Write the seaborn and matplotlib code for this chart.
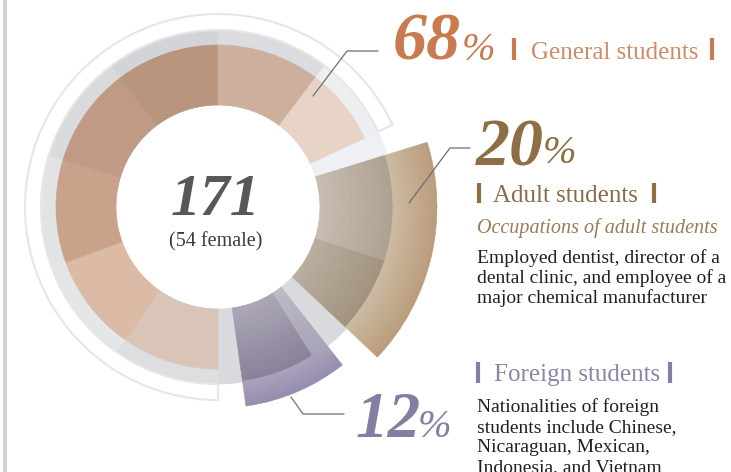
import numpy as np
import matplotlib.pyplot as plt
import seaborn as sns

sns.set_theme(style="white")
plt.rcParams['font.family'] = ['Liberation Serif', 'DejaVu Serif']

# --- data ---
groups = ["General students", "Adult students", "Foreign students"]
shares = [68, 20, 12]
total_students = 171
female_students = 54
adult_title = "Occupations of adult students"
adult_lines = ["Employed dentist, director of a",
               "dental clinic, and employee of a",
               "major chemical manufacturer"]
foreign_lines = ["Nationalities of foreign",
                 "students include Chinese,",
                 "Nicaraguan, Mexican,",
                 "Indonesia, and Vietnam"]

# colours
c_gen, c_adult, c_for = "#c97b4f", "#8e6e45", "#857ea3"
c_gen_txt, c_adult_txt, c_for_txt = "#cf8a66", "#8a6c48", "#8c85aa"
c_body = "#231f20"
c_lead = "#6d6e71"

W, H = 731, 472
fig = plt.figure(figsize=(W / 100, H / 100), dpi=100)

# polar axes centred on the donut (pixel geometry of the original)
cx, cy, rmax = 218, 207, 230
ax = fig.add_axes([(cx - rmax) / W, (H - cy - rmax) / H, 2 * rmax / W, 2 * rmax / H],
                  projection='polar')
ax.set_theta_zero_location('N')
ax.set_theta_direction(-1)
ax.set_ylim(0, rmax)
ax.axis('off')


def wedge(a0, a1, r0, r1, color, z=2):
    ax.bar(np.deg2rad((a0 + a1) / 2), r1 - r0, width=np.deg2rad(a1 - a0), bottom=r0,
           color=color, edgecolor=color, linewidth=0.4, zorder=z)


def shaded(a0, a1, r0, r1, c0, c1, n=12, z=3):
    # radial colour blend, drawn as thin rings
    cols = sns.blend_palette([c0, c1], n)
    rs = np.linspace(r0, r1, n + 1)
    for i in range(n):
        wedge(a0, a1, rs[i], rs[i + 1], cols[i], z)


# slice angles (compass degrees, clockwise, starting at 6 o'clock)
edges = 180 + 360 * np.cumsum([0] + shares) / 100

# grey backing ring
ring = [(180, 215, '#dcdee0'), (215, 250, '#e5e6e8'), (250, 287, '#e1e3e5'),
        (287, 323, '#d8dadc'), (323, 360, '#d2d4d7'), (360, 397, '#dadcdf'),
        (397, edges[1], '#eceef0'), (edges[1], edges[1] + 8, '#eef0f3'),
        (edges[1] + 8, edges[3], '#d8dadd')]
for a0, a1, c in ring:
    wedge(a0, a1, 102, 177, c, z=1)

# general students: shaded sub-bands
gen_bands = [180, 215, 250, 287, 323, 360, 397, edges[1]]
gen_cols = ['#d8c5b8', '#dbbba5', '#caa18a', '#c09a84', '#b9947e', '#ccb09d', '#e7d4c6']
for a0, a1, c in zip(gen_bands[:-1], gen_bands[1:], gen_cols):
    wedge(a0, a1, 102, 162, c)
ax.bar(np.deg2rad((edges[0] + edges[1]) / 2), 16, width=np.deg2rad(edges[1] - edges[0]),
       bottom=177, fill=False, edgecolor='#e6e6e6', linewidth=1.5, zorder=2)

# adult students
a0, a1 = edges[1] + 8, edges[2] - 3.5
shaded(a0, 468, 102, 175, '#c6bcb0', '#b0a291')
shaded(468, a1, 102, 175, '#b9ad9e', '#a39481')
shaded(a0, a1, 175, 219, '#cbb9a1', '#ba9d7c')

# foreign students
f0, f1 = edges[2] + 5, edges[3] - 8
shaded(f0, f0 + 6, 102, 176, '#bdb9c6', '#a9a3b7')
shaded(f0 + 6, f1, 102, 176, '#aba5b7', '#8a8399')
shaded(f0, f1, 176, 201, '#a8a1bb', '#958cae')

# --- overlay in pixel coordinates for text and leader lines ---
tx = fig.add_axes([0, 0, 1, 1], zorder=5)
tx.set_xlim(0, W)
tx.set_ylim(H, 0)
tx.axis('off')
tx.patch.set_alpha(0)

tx.plot([5, 5], [0, H], color='#d2d2d2', lw=3, solid_capstyle='butt')

big = dict(fontweight='bold', fontstyle='italic', va='baseline', ha='left')
pct = dict(fontstyle='italic', va='baseline', ha='left')

# centre
tx.text(215, 215, str(total_students), fontsize=43, color='#58585a',
        fontweight='bold', fontstyle='italic', ha='center', va='baseline')
tx.text(216, 246, f"({female_students} female)", fontsize=14.5, color='#3a3a3a',
        ha='center', va='baseline')

# general
tx.plot([313, 347, 378], [96, 51, 51], color=c_lead, lw=0.9)
tx.text(393, 60, f"{shares[0]}", fontsize=49, color=c_gen, **big)
tx.text(462, 60, "%", fontsize=29, color=c_gen, **pct)
for x in (514, 712):
    tx.plot([x, x], [38, 60], color=c_gen, lw=3, solid_capstyle='butt')
tx.text(531, 59, groups[0], fontsize=18, color=c_gen_txt, va='baseline')

# adult
tx.plot([409, 450, 470], [203, 148, 148], color=c_lead, lw=0.9)
tx.text(476, 165, f"{shares[1]}", fontsize=49, color=c_adult, **big)
tx.text(543, 163, "%", fontsize=29, color=c_adult, **pct)
for x in (479, 654):
    tx.plot([x, x], [183, 203], color=c_adult, lw=3, solid_capstyle='butt')
tx.text(493, 202, groups[1], fontsize=18, color=c_adult_txt, va='baseline')
tx.text(477, 233, adult_title, fontsize=14.5, fontstyle='italic', color='#9b7b56',
        va='baseline')
for i, line in enumerate(adult_lines):
    tx.text(477, 263 + 20 * i, line, fontsize=14, color=c_body, va='baseline')

# foreign
tx.plot([291, 303, 344], [397, 414, 414], color=c_lead, lw=0.9)
tx.text(355, 437, f"{shares[2]}", fontsize=47, color=c_for, **big)
tx.text(418, 437, "%", fontsize=29, color=c_for, **pct)
for x in (478, 670):
    tx.plot([x, x], [362, 383], color=c_for, lw=3, solid_capstyle='butt')
tx.text(494, 381, groups[2], fontsize=18, color=c_for_txt, va='baseline')
for i, line in enumerate(foreign_lines):
    tx.text(477, 412 + 20 * i, line, fontsize=14, color=c_body, va='baseline')

fig.savefig('out.png', dpi=100, facecolor='white')
